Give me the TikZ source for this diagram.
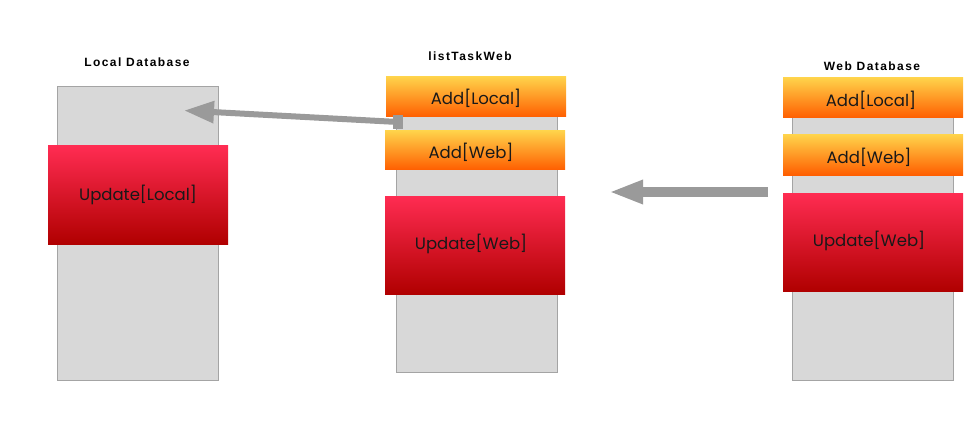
\documentclass[tikz,border=0pt]{standalone}
\usepackage{fontspec}
\setmainfont{Poppins}
\newfontfamily\labelfont[LetterSpace=12]{Liberation Sans}
\usetikzlibrary{arrows.meta}
\definecolor{colbg}{HTML}{D8D8D8}
\definecolor{colbd}{HTML}{A4A4A4}
\definecolor{orTop}{HTML}{FFD24A}
\definecolor{orBot}{HTML}{FF5E00}
\definecolor{rdTop}{HTML}{FF2C52}
\definecolor{rdBot}{HTML}{B00000}
\definecolor{arr}{HTML}{9A9A9A}
\begin{document}
\begin{tikzpicture}[x=1pt,y=-1pt,
  column/.style={draw=colbd,line width=0.8pt,fill=colbg},
  addbox/.style={top color=orTop,bottom color=orBot,draw=none},
  updbox/.style={top color=rdTop,bottom color=rdBot,draw=none},
  boxtext/.style={font=\fontsize{16.5}{19}\selectfont,text=black!90},
  title/.style={font=\labelfont\bfseries\fontsize{12}{14}\selectfont},
  bigarrow/.style={draw=arr,-{Triangle[length=30pt,width=21pt]}}]
\useasboundingbox (0,0) rectangle (980,425);
% Local Database
\node[title] (t1) at (137,62) {Local Database};
\draw[column] (57,86) rectangle (218,380);
\shade[updbox] (48,146) rectangle (228,244);
\node[boxtext] (u1) at (138,195) {Update[Local]};
% listTaskWeb
\node[title] (t2) at (470,56) {listTaskWeb};
\draw[column] (396,90) rectangle (557,372);
\shade[addbox] (386,77) rectangle (566,117);
\node[boxtext] (a1) at (476,98) {Add[Local]};
\shade[addbox] (385,131) rectangle (565,170);
\node[boxtext] (a2) at (471,152) {Add[Web]};
\shade[updbox] (385,196) rectangle (565,294);
\node[boxtext] (u2) at (471,244) {Update[Web]};
% Web Database
\node[title] (t3) at (872,66) {Web Database};
\draw[column] (792,90) rectangle (953,380);
\shade[addbox] (783,78) rectangle (963,118);
\node[boxtext] (a3) at (871,100) {Add[Local]};
\shade[addbox] (783,135) rectangle (963,175);
\node[boxtext] (a4) at (869,157) {Add[Web]};
\shade[updbox] (783,193) rectangle (963,291);
\node[boxtext] (u3) at (869,241) {Update[Web]};
% arrows
\node[fill=arr,minimum width=10pt,minimum height=14pt,inner sep=0pt] (sq) at (398,122) {};
\coordinate (e1) at (184,110.5);
\draw[bigarrow,line width=6pt] (sq.center) -- (e1);
\coordinate (s2) at (768,192);
\coordinate (e2) at (609,192);
\draw[bigarrow,line width=10pt,-{Triangle[length=34pt,width=22pt]}] (s2) -- (e2);
\end{tikzpicture}
\end{document}
